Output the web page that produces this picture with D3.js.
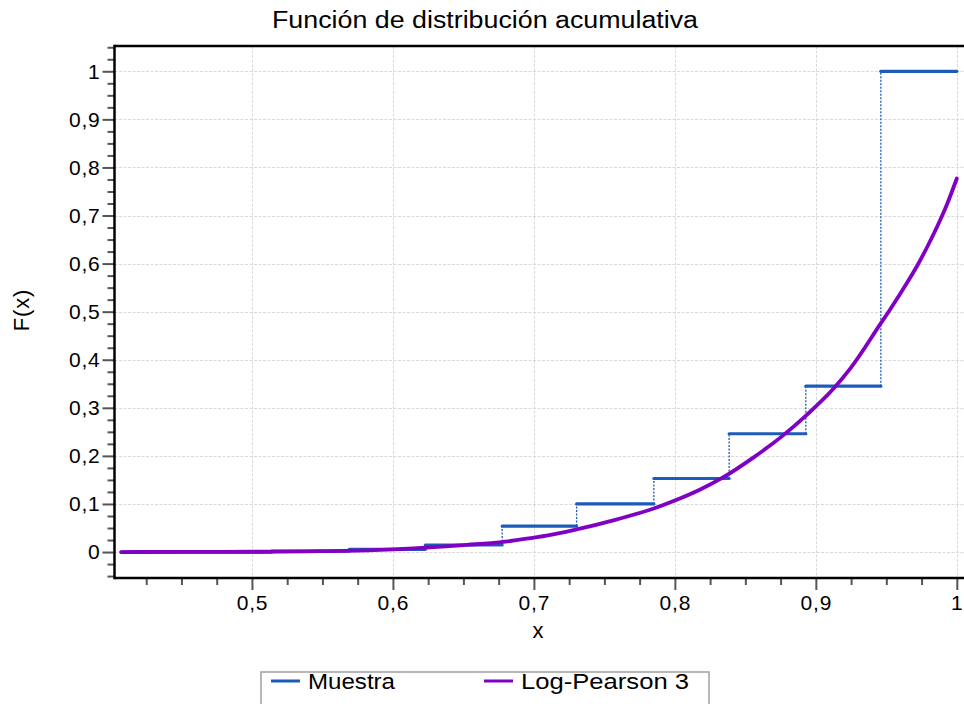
<!DOCTYPE html>
<html>
<head>
<meta charset="utf-8">
<script src="https://cdn.jsdelivr.net/npm/d3@7"></script>
<style>
html,body{margin:0;padding:0;background:#fff;}
svg{display:block;}
text{font-family:"Liberation Sans",Arial,sans-serif;fill:#000;}
</style>
</head>
<body>
<svg id="chart" width="964" height="704"></svg>
<script>
// ---- data ----
const stepX = [0.4072, 0.514, 0.569, 0.623, 0.6775, 0.7303, 0.7851, 0.8385, 0.8929, 0.9461, 1.0];
const stepF = [0, 0.002, 0.0056, 0.0146, 0.054, 0.100, 0.153, 0.246, 0.345, 1.0];

const curveX = [0.4072, 0.45, 0.50, 0.539, 0.5864, 0.6145, 0.64, 0.6526, 0.677, 0.70, 0.709, 0.7303, 0.759, 0.7855, 0.80, 0.818, 0.8323, 0.8559, 0.8748, 0.8938, 0.9126, 0.9245, 0.9457, 0.9528, 0.9647, 0.9718, 0.9789, 0.9883, 0.9930, 1.0];
const curveF = [0, 0.0002, 0.0006, 0.0015, 0.004, 0.0077, 0.0125, 0.015, 0.0205, 0.030, 0.034, 0.047, 0.068, 0.091, 0.107, 0.130, 0.152, 0.197, 0.238, 0.286, 0.340, 0.382, 0.474, 0.505, 0.560, 0.595, 0.634, 0.691, 0.723, 0.777];

const xMajor = [0.5, 0.6, 0.7, 0.8, 0.9, 1.0];
const yMajor = [0, 0.1, 0.2, 0.3, 0.4, 0.5, 0.6, 0.7, 0.8, 0.9, 1.0];
const seriesNames = ["Muestra", "Log-Pearson 3"];
const seriesColors = ["#1c5cb8", "#8000c4"];
const titleText = "Función de distribución acumulativa";
const xLabel = "x";
const yLabel = "F(x)";

// ---- layout ----
const svg = d3.select("#chart");
const L = 114.5, R = 964, T = 46, B = 578;
const x = d3.scaleLinear().domain([0.4025, 1.0051]).range([L, R]);
const y = d3.scaleLinear().domain([-0.054, 1.0526]).range([B, T]);
const fmt = v => (Math.abs(v - 1) < 1e-9 ? "1" : (v === 0 ? "0" : d3.format(".1f")(v).replace(".", ",")));

const xMinor = d3.range(0.425, 1.001, 0.025).filter(v => !xMajor.some(m => Math.abs(m - v) < 1e-6));
const yMinor = d3.range(-0.05, 1.051, 0.025).filter(v => !yMajor.some(m => Math.abs(m - v) < 1e-6));

// grid
const grid = svg.append("g").attr("stroke", "#dadada").attr("stroke-width", 1).attr("stroke-dasharray", "3,1.5");
grid.selectAll(".gx").data(xMajor).join("line")
  .attr("x1", d => Math.round(x(d)) + 0.5).attr("x2", d => Math.round(x(d)) + 0.5)
  .attr("y1", T).attr("y2", B);
grid.selectAll(".gy").data(yMajor).join("line")
  .attr("y1", d => Math.round(y(d)) + 0.5).attr("y2", d => Math.round(y(d)) + 0.5)
  .attr("x1", L).attr("x2", R);

// axes ticks
const tickColor = "#555";
const xAxisMinor = d3.axisBottom(x).tickValues(xMinor).tickSize(7).tickFormat("");
const xAxisMajor = d3.axisBottom(x).tickValues(xMajor).tickSize(12).tickPadding(5).tickFormat(fmt);
const yAxisMinor = d3.axisLeft(y).tickValues(yMinor).tickSize(7).tickFormat("");
const yAxisMajor = d3.axisLeft(y).tickValues(yMajor).tickSize(12).tickPadding(2).tickFormat(fmt);

function styleAxis(g) {
  g.select(".domain").remove();
  g.selectAll(".tick line").attr("stroke", tickColor).attr("stroke-width", 2);
  g.selectAll(".tick text").attr("font-family", "Liberation Sans, Arial, sans-serif")
    .attr("font-size", 21).attr("letter-spacing", 0.8).attr("fill", "#000");
}
svg.append("g").attr("transform", `translate(0,${B})`).call(xAxisMinor).call(styleAxis);
svg.append("g").attr("transform", `translate(0,${B})`).call(xAxisMajor).call(styleAxis);
svg.append("g").attr("transform", `translate(${L},0)`).call(yAxisMinor).call(styleAxis);
svg.append("g").attr("transform", `translate(${L},0)`).call(yAxisMajor).call(styleAxis);

// frame lines
svg.append("line").attr("x1", L).attr("x2", R).attr("y1", T).attr("y2", T).attr("stroke", "#000").attr("stroke-width", 2.5);
svg.append("line").attr("x1", L).attr("x2", R).attr("y1", B).attr("y2", B).attr("stroke", "#000").attr("stroke-width", 2.5);
svg.append("line").attr("x1", L).attr("x2", L).attr("y1", T - 1.25).attr("y2", B + 1.25).attr("stroke", "#000").attr("stroke-width", 2.5);

// step function (Muestra)
const steps = stepF.map((f, i) => ({x0: stepX[i], x1: stepX[i + 1], f, fNext: i + 1 < stepF.length ? stepF[i + 1] : null}));
const plot = svg.append("g");
plot.selectAll(".vstep").data(steps.filter(s => s.fNext !== null)).join("line")
  .attr("x1", d => x(d.x1)).attr("x2", d => x(d.x1))
  .attr("y1", d => y(d.f)).attr("y2", d => y(d.fNext))
  .attr("stroke", seriesColors[0]).attr("stroke-width", 1.3).attr("stroke-dasharray", "2,1.5");
plot.selectAll(".hstep").data(steps).join("line")
  .attr("x1", d => x(d.x0)).attr("x2", d => x(d.x1))
  .attr("y1", d => y(d.f)).attr("y2", d => y(d.f))
  .attr("stroke", seriesColors[0]).attr("stroke-width", 3.2).attr("stroke-linecap", "round");

// fitted curve (Log-Pearson 3)
const line = d3.line().x(d => x(d[0])).y(d => y(d[1])).curve(d3.curveMonotoneX);
plot.append("path").datum(curveX.map((v, i) => [v, curveF[i]]))
  .attr("d", line).attr("fill", "none").attr("stroke", seriesColors[1]).attr("stroke-width", 3.8)
  .attr("stroke-linejoin", "round").attr("stroke-linecap", "round");

// title & labels
svg.append("text").attr("x", 485).attr("y", 28).attr("text-anchor", "middle")
  .attr("font-size", 23).attr("textLength", 426).attr("lengthAdjust", "spacingAndGlyphs").text(titleText);
svg.append("text").attr("x", 538).attr("y", 638).attr("text-anchor", "middle")
  .attr("font-size", 22).text(xLabel);
svg.append("text").attr("transform", "translate(29,310) rotate(-90)").attr("text-anchor", "middle")
  .attr("font-size", 22).attr("letter-spacing", 0.8).text(yLabel);

// legend
const lg = svg.append("g");
lg.append("rect").attr("x", 261).attr("y", 672).attr("width", 448).attr("height", 60)
  .attr("fill", "#fff").attr("stroke", "#a0a0a0").attr("stroke-width", 1.5);
const legendItems = [
  {name: seriesNames[0], color: seriesColors[0], lx: 271, tx: 308, tw: 87},
  {name: seriesNames[1], color: seriesColors[1], lx: 484, tx: 521, tw: 168}
];
legendItems.forEach(it => {
  lg.append("line").attr("x1", it.lx).attr("x2", it.lx + 29).attr("y1", 681).attr("y2", 681)
    .attr("stroke", it.color).attr("stroke-width", 3);
  lg.append("text").attr("x", it.tx).attr("y", 689).attr("font-size", 22)
    .attr("textLength", it.tw).attr("lengthAdjust", "spacingAndGlyphs").text(it.name);
});
</script>
</body>
</html>
